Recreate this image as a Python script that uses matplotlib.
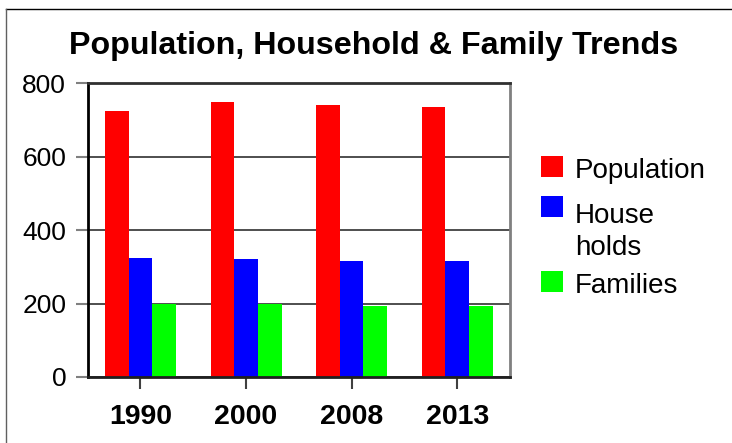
import numpy as np
import matplotlib
matplotlib.use('Agg')
import matplotlib.pyplot as plt
from matplotlib.lines import Line2D
from matplotlib.patches import Rectangle

plt.rcParams['font.family'] = ['Liberation Sans', 'DejaVu Sans']

# data
years = ['1990', '2000', '2008', '2013']
population = [724, 748, 740, 735]
households = [324, 321, 316, 316]
families = [198, 198, 194, 194]
series_names = ['Population', 'House\nholds', 'Families']
series_colors = ['#ff0000', '#0000ff', '#00ff00']

W, H = 732, 443
fig = plt.figure(figsize=(W / 100, H / 100), dpi=100)
ax = fig.add_axes([0.1198, 0.149, 0.5769, 0.663])

x = np.arange(len(years))
w = 0.224
for i, (vals, col) in enumerate(zip([population, households, families], series_colors)):
    ax.bar(x + (i - 1) * w, vals, w, color=col, zorder=2)

ax.set_xlim(-0.5, len(years) - 0.5)
ax.set_ylim(0, 800)
ax.set_yticks([0, 200, 400, 600, 800])
ax.set_xticks(x)
ax.set_xticklabels(years, fontweight='bold')
ax.tick_params(axis='y', labelsize=19, length=8.5, width=1.5, color='#808080', pad=7)
ax.tick_params(axis='x', labelsize=20.5, length=8.5, width=1.5, color='#404040', pad=11)

# horizontal grid lines behind the bars
ax.set_axisbelow(True)
ax.yaxis.grid(True, color='#404040', linewidth=1.3)

ax.spines['left'].set_color('black')
ax.spines['bottom'].set_color('#202020')
ax.spines['top'].set_color('#303030')
ax.spines['right'].set_color('#808080')
for s in ax.spines.values():
    s.set_linewidth(2)
    s.set_zorder(3)

fig.text(0.511, 1 - 54 / H, 'Population, Household & Family Trends', fontsize=23.2,
         fontweight='bold', ha='center', va='baseline')

# legend drawn by hand so the two-line label keeps its square at the first line
box_tops = [156, 196, 271]
last_baselines = [178, 255, 293]
for name, col, top, base in zip(series_names, series_colors, box_tops, last_baselines):
    fig.add_artist(Rectangle((541 / W, 1 - (top + 21) / H), 22 / W, 21 / H,
                             transform=fig.transFigure, facecolor=col, edgecolor='none'))
    fig.text(575 / W, 1 - base / H, name, fontsize=20, ha='left', va='baseline',
             linespacing=1.3)

# thin frame lines around the picture (top and left)
fig.add_artist(Line2D([0.008, 1.0], [0.980, 0.980], transform=fig.transFigure, color='black', linewidth=1))
fig.add_artist(Line2D([0.008, 0.008], [0.0, 0.980], transform=fig.transFigure, color='#606060', linewidth=1))

fig.savefig('out.png', dpi=100)
